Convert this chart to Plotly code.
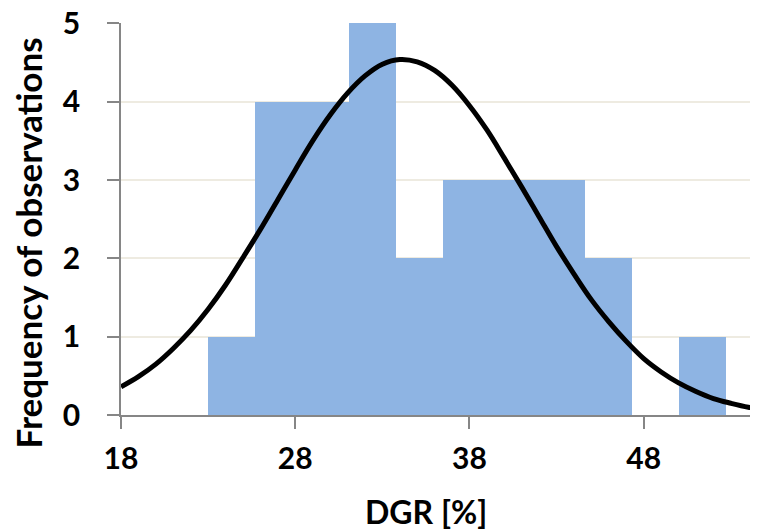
import plotly.graph_objects as go

# Histogram bins (DGR %)
bin_left = [23.0, 25.7, 28.4, 31.1, 33.8, 36.5, 39.2, 41.9, 44.6, 47.3, 50.0]
bin_width = 2.7
counts = [1, 4, 4, 5, 2, 3, 3, 3, 2, 0, 1]

# Fitted normal curve
curve_x = [18, 19, 20, 21, 22, 23, 24, 25, 26, 27, 28, 29, 30, 31, 32, 33, 34, 35, 36,
           37, 38, 39, 40, 41, 42, 43, 44, 45, 46, 47, 48, 49, 50, 51, 52, 53, 54, 55]
curve_y = [0.36, 0.49, 0.65, 0.85, 1.08, 1.35, 1.66, 2.01, 2.37, 2.75, 3.13, 3.50, 3.83,
           4.11, 4.33, 4.48, 4.54, 4.51, 4.40, 4.21, 3.95, 3.64, 3.28, 2.91, 2.53, 2.15,
           1.80, 1.47, 1.19, 0.94, 0.72, 0.55, 0.41, 0.30, 0.21, 0.15, 0.10, 0.07]

x_ticks = [18, 28, 38, 48]
y_ticks = [0, 1, 2, 3, 4, 5]
x_title = "DGR [%]"
y_title = "Frequency of observations"

bin_centers = [b + bin_width / 2 for b in bin_left]

FONT = "Lato"
fig = go.Figure()
fig.add_trace(go.Bar(
    x=bin_centers, y=counts, width=[bin_width] * len(counts),
    marker=dict(color="#8EB4E3", line=dict(width=0)),
    showlegend=False, hoverinfo="x+y",
))
fig.add_trace(go.Scatter(
    x=curve_x, y=curve_y, mode="lines", line=dict(color="black", width=5, shape="spline"),
    showlegend=False,
))

# page body has an 8px default margin, so the figure is 8px smaller and offset
fig.update_layout(
    width=750, height=523,
    margin=dict(l=113, r=1, t=15, b=116, autoexpand=False),
    plot_bgcolor="white", paper_bgcolor="white",
    bargap=0,
    font=dict(family=FONT, color="black", size=30, weight="bold"),
    annotations=[
        dict(text=x_title, xref="paper", yref="paper", x=0.4796, y=-0.2474,
             xanchor="center", yanchor="middle", showarrow=False,
             font=dict(family=FONT, size=32, color="black", weight="bold")),
        dict(text=y_title, xref="paper", yref="paper", x=-0.147, y=0.4388,
             xanchor="center", yanchor="middle", showarrow=False, textangle=-90,
             font=dict(family=FONT, size=35, color="black", weight="bold")),
    ],
)
fig.update_xaxes(
    range=[18, 54.5], tickvals=x_ticks, ticktext=[str(v) for v in x_ticks],
    showgrid=False, zeroline=False, automargin=False,
    showline=True, linecolor="#868686", linewidth=1.5,
    ticks="outside", ticklen=12, tickcolor="#868686", tickwidth=1.5,
    tickfont=dict(family=FONT, size=30, color="black", weight="bold"),
    ticklabelstandoff=4, ticklabeloverflow="allow",
)
fig.update_yaxes(
    range=[0, 5.006], tickvals=y_ticks,
    showgrid=True, gridcolor="#EEEBE1", gridwidth=1.5, zeroline=False, automargin=False,
    showline=True, linecolor="#868686", linewidth=1.5,
    ticks="outside", ticklen=12, tickcolor="#868686", tickwidth=1.5,
    tickfont=dict(family=FONT, size=30, color="black", weight="bold"),
    ticklabelstandoff=21, ticklabeloverflow="allow",
)

fig.write_html("out.html")
